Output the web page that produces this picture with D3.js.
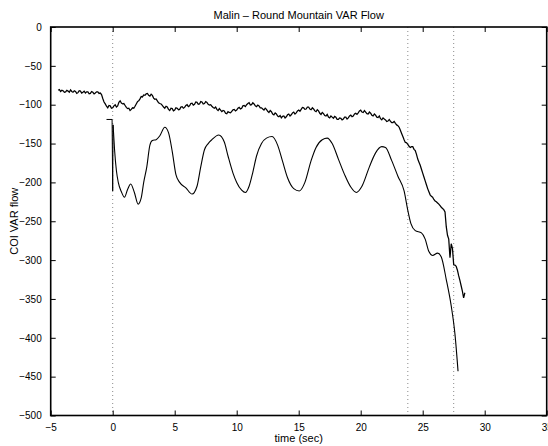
<!DOCTYPE html>
<html>
<head>
<meta charset="utf-8">
<script src="https://cdn.jsdelivr.net/npm/d3@7"></script>
<style>
  html, body { margin: 0; padding: 0; background: #fff; }
  svg { display: block; font-family: "Liberation Sans", Arial, Helvetica, sans-serif; }
</style>
</head>
<body>
<svg id="chart" width="548" height="446"></svg>
<script>
// Measured trace: sampled every 0.1 s starting at t = -4.4 s
const measuredStart = -4.4;
const measuredStep = 0.1;
const measuredFlow = [
  -81.5,-80.5,-83.0,-81.5,-82.0,-84.0,-83.5,-81.5,-82.5,-84.0,
  -81.0,-83.0,-84.0,-82.0,-83.0,-85.5,-84.5,-82.0,-82.5,-85.0,
  -84.0,-82.5,-85.0,-83.5,-83.5,-86.0,-85.5,-83.0,-84.0,-86.0,
  -85.0,-83.5,-83.5,-85.5,-85.0,-87.0,-92.0,-96.5,-99.0,-102.0,
  -104.0,-101.0,-101.5,-104.5,-104.0,-101.5,-100.0,-103.0,-101.5,-97.0,
  -95.0,-98.0,-99.0,-98.5,-101.0,-103.5,-105.0,-104.5,-107.5,-106.0,
  -104.0,-104.5,-102.0,-99.0,-96.0,-95.0,-92.5,-89.5,-90.0,-87.5,
  -88.0,-86.0,-85.5,-88.0,-89.0,-86.5,-88.0,-91.5,-93.0,-92.5,
  -95.0,-97.5,-98.5,-99.0,-101.0,-103.0,-104.5,-102.0,-103.0,-106.0,
  -107.5,-104.5,-105.0,-108.0,-107.0,-104.0,-104.5,-106.5,-106.0,-103.0,
  -102.5,-104.5,-103.5,-101.0,-100.0,-102.5,-101.5,-98.5,-98.0,-100.5,
  -99.5,-96.5,-97.0,-99.5,-99.0,-96.0,-96.5,-99.0,-98.5,-96.0,
  -97.0,-99.5,-100.5,-100.0,-102.0,-103.5,-104.5,-103.0,-106.0,-107.5,
  -105.0,-107.0,-109.0,-107.5,-108.0,-111.0,-111.5,-109.0,-110.0,-110.5,
  -108.5,-106.5,-106.0,-108.0,-107.0,-104.5,-103.5,-105.5,-104.5,-101.5,
  -101.0,-102.5,-100.0,-98.5,-97.5,-100.5,-100.0,-97.5,-99.0,-101.5,
  -102.5,-100.5,-101.5,-104.0,-104.0,-105.5,-107.0,-104.5,-106.0,-108.5,
  -110.0,-107.5,-109.0,-112.0,-113.0,-110.5,-112.0,-114.5,-115.5,-114.0,
  -117.0,-115.0,-114.5,-117.0,-115.5,-113.0,-112.0,-114.5,-113.0,-110.5,
  -109.5,-112.0,-110.5,-108.0,-107.0,-108.5,-106.0,-103.5,-104.0,-106.0,
  -105.5,-103.0,-103.0,-105.5,-106.5,-104.0,-105.5,-108.0,-109.0,-106.5,
  -108.0,-111.0,-112.5,-110.0,-111.5,-114.0,-114.5,-112.5,-116.0,-117.0,
  -114.5,-116.0,-117.5,-115.0,-116.0,-119.0,-119.0,-117.0,-117.5,-119.5,
  -118.5,-116.0,-116.0,-118.5,-117.0,-114.5,-113.5,-115.5,-114.5,-112.0,
  -111.0,-112.5,-110.5,-108.0,-107.0,-109.5,-110.0,-107.5,-109.5,-111.5,
  -112.0,-109.5,-111.0,-113.5,-114.5,-112.0,-113.5,-116.0,-116.5,-114.5,
  -118.0,-119.5,-117.0,-118.5,-119.5,-121.5,-121.0,-119.0,-121.5,-123.0,
  -123.0,-121.5,-124.0,-126.0,-127.0,-129.0,-133.0,-137.0,-141.0,-145.0,
  -148.5,-149.0,-151.0,-153.5,-155.0,-154.0,-154.0,-157.5,-159.0,-164.0,
  -170.0,-174.0,-178.0,-183.0,-188.0,-193.0,-198.0,-203.0,-208.0,-212.0,
  -216.0,-218.0,-219.0,-222.0,-224.0,-225.0,-226.5,-228.0,-230.0,-232.0,
  -233.5,-235.0,-238.0,-257.0,-268.0,-273.0,-297.0,-279.0,-285.0,-306.0,
  -306.5,-308.0,-313.0,-320.0,-326.0,-333.0,-340.0,-348.5,-342.0
];

// Simulated trace: time stamps (sec) and COI VAR flow
const simulatedTime = [
  -0.5,-0.05,0.0,0.03,0.15,0.3,0.45,0.7,0.95,1.2,1.45,1.75,2.05,2.3,2.5,2.75,3.0,3.2,3.5,3.8,
  4.2,4.5,4.8,5.1,5.4,5.9,6.4,6.8,7.1,7.4,7.7,8.0,8.55,9.0,9.3,9.7,10.0,10.4,10.7,11.0,
  11.3,11.6,12.0,12.4,12.85,13.3,13.7,14.1,14.6,15.05,15.5,16.0,16.4,16.9,17.3,17.7,18.2,18.7,19.2,19.65,
  20.1,20.7,21.2,21.7,22.0,22.5,23.0,23.5,23.8,24.05,24.4,24.9,25.2,25.5,25.8,26.2,26.5,26.9,27.3,27.6,
  27.85
];
const simulatedFlow = [
  -119,-119,-211,-126,-158,-185,-200,-212,-219,-209,-202,-213,-228,-220,-200,-180,-152,-146,-145,-140,
  -129,-136,-160,-190,-200,-207,-215,-205,-180,-158,-150,-145,-139,-148,-166,-188,-200,-210,-213,-205,
  -187,-166,-150,-143,-141,-152,-173,-194,-208,-211,-200,-172,-155,-145,-143,-150,-170,-190,-206,-213,
  -205,-180,-162,-154,-155,-172,-192,-211,-236,-253,-262,-265,-273,-289,-294,-291,-296,-325,-359,-395,
  -443
];

// Event markers (sec)
const eventTimes = [0, 23.8, 27.5];

// Axis ticks
const xTicks = [-5, 0, 5, 10, 15, 20, 25, 30, 35];
const yTicks = [0, -50, -100, -150, -200, -250, -300, -350, -400, -450, -500];

const titleText = "Malin \u2013 Round Mountain VAR Flow";
const xLabelText = "time (sec)";
const yLabelText = "COI VAR flow";

const svg = d3.select("#chart");
const margin = { left: 50.7, right: 1.3, top: 27, bottom: 30.5 };
const W = 548, H = 446;
const x = d3.scaleLinear().domain([-5, 35]).range([margin.left, W - margin.right]);
const y = d3.scaleLinear().domain([-500, 0]).range([H - margin.bottom, margin.top]);

const plot = svg.append("g");

// dotted event lines
plot.selectAll("line.event").data(eventTimes).join("line")
  .attr("class", "event")
  .attr("x1", d => x(d)).attr("x2", d => x(d))
  .attr("y1", y(0)).attr("y2", y(-500))
  .attr("stroke", "#8a8a8a").attr("stroke-width", 1)
  .attr("stroke-dasharray", "1,3");

// simulated trace
const simPts = simulatedTime.map((t, i) => [t, simulatedFlow[i]]);
// the spike at t = 0 is drawn straight; the rest is smoothed
const spikePts = simPts.slice(0, 4);
const smoothPts = simPts.slice(3);
plot.append("path")
  .attr("d", d3.line().x(d => x(d[0])).y(d => y(d[1]))(spikePts))
  .attr("fill", "none").attr("stroke", "#000").attr("stroke-width", 1);
plot.append("path")
  .attr("d", d3.line().x(d => x(d[0])).y(d => y(d[1])).curve(d3.curveMonotoneX)(smoothPts))
  .attr("fill", "none").attr("stroke", "#000").attr("stroke-width", 1.1);

// measured trace
const measPts = measuredFlow.map((v, i) => [measuredStart + i * measuredStep, v]);
plot.append("path")
  .attr("d", d3.line().x(d => x(d[0])).y(d => y(d[1]))(measPts))
  .attr("fill", "none").attr("stroke", "#000").attr("stroke-width", 1.25)
  .attr("stroke-linejoin", "miter");

// axes box with inward ticks on all four sides
const tickLen = 5;
const fmt = d => d3.format("")(d).replace("-", "\u2212");
const axisBottom = d3.axisBottom(x).tickValues(xTicks).tickSizeInner(-tickLen).tickSizeOuter(0)
  .tickPadding(8).tickFormat(fmt);
const axisTop = d3.axisTop(x).tickValues(xTicks).tickSizeInner(-tickLen).tickSizeOuter(0).tickFormat("");
const axisLeft = d3.axisLeft(y).tickValues(yTicks).tickSizeInner(-tickLen).tickSizeOuter(0)
  .tickPadding(9).tickFormat(fmt);
const axisRight = d3.axisRight(y).tickValues(yTicks).tickSizeInner(-tickLen).tickSizeOuter(0).tickFormat("");

function styleAxis(g) {
  g.select(".domain").remove();
  g.selectAll(".tick line").attr("stroke", "#000").attr("stroke-width", 1);
  g.selectAll(".tick text").attr("fill", "#000").attr("font-size", 10)
    .attr("font-family", "'Liberation Sans', Arial, Helvetica, sans-serif");
}
svg.append("g").attr("transform", `translate(0,${y(-500)})`).call(axisBottom).call(styleAxis);
svg.append("g").attr("transform", `translate(0,${y(0)})`).call(axisTop).call(styleAxis);
svg.append("g").attr("transform", `translate(${x(-5)},0)`).call(axisLeft).call(styleAxis);
svg.append("g").attr("transform", `translate(${x(35)},0)`).call(axisRight).call(styleAxis);

svg.append("rect")
  .attr("x", x(-5)).attr("y", y(0))
  .attr("width", x(35) - x(-5)).attr("height", y(-500) - y(0))
  .attr("fill", "none").attr("stroke", "#000").attr("stroke-width", 1.6);

// title and axis labels
svg.append("text").attr("x", (x(-5) + x(35)) / 2).attr("y", 19)
  .attr("text-anchor", "middle").attr("font-size", 11).text(titleText);
svg.append("text").attr("x", (x(-5) + x(35)) / 2).attr("y", 442)
  .attr("text-anchor", "middle").attr("font-size", 11).text(xLabelText);
svg.append("text")
  .attr("transform", `translate(18,${(y(0) + y(-500)) / 2}) rotate(-90)`)
  .attr("text-anchor", "middle").attr("font-size", 11).text(yLabelText);
</script>
</body>
</html>
